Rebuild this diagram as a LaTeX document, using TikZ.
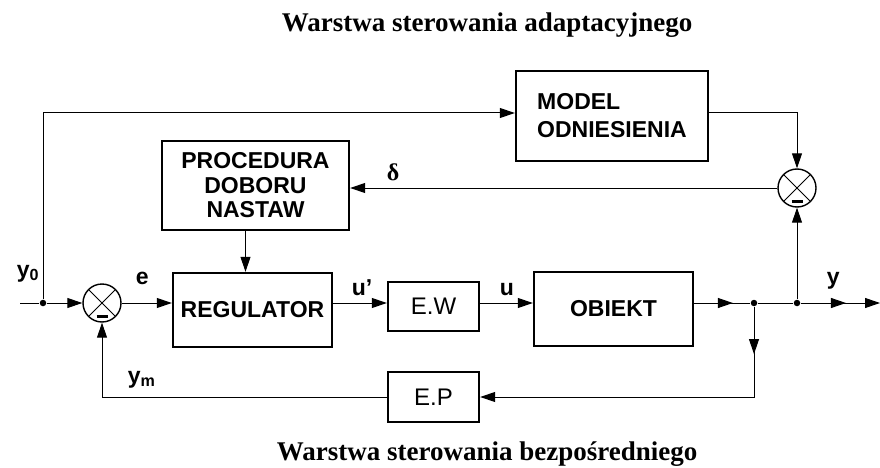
\documentclass[tikz,border=0pt]{standalone}
\usepackage{fontspec}
\setmainfont{Liberation Serif}
\setsansfont{Liberation Sans}
\usetikzlibrary{arrows.meta,positioning,calc,decorations.markings}

\tikzset{
  >={Triangle[length=15pt,width=10pt]},
  blok/.style={draw, line width=2.4pt, inner sep=0pt, align=center,
    font=\sffamily\bfseries\fontsize{23}{24.5}\selectfont},
  sumator/.style={draw, circle, line width=1.4pt, minimum size=38pt, inner sep=0pt,
    path picture={
      \draw[line width=1pt] (path picture bounding box.north west) -- (path picture bounding box.south east);
      \draw[line width=1pt] (path picture bounding box.south west) -- (path picture bounding box.north east);
      \draw[line width=2.6pt] ([xshift=-5.5pt,yshift=-13.5pt]path picture bounding box.center) -- ++(11pt,0pt);
    }},
  wezel/.style={circle, fill, inner sep=0pt, minimum size=6.5pt},
  lbl/.style={anchor=base west, font=\sffamily\bfseries\fontsize{23}{24}\selectfont},
  tytul/.style={anchor=base west, font=\bfseries\fontsize{27}{30}\selectfont},
  midarrow/.style={postaction={decorate},
    decoration={markings, mark=at position #1 with {\arrow{>}}}},
}

\begin{document}
\begin{tikzpicture}[x=1pt, y=-1pt, line width=1pt]
  \useasboundingbox (0,0) rectangle (880,468);

  % warstwy
  \node[tytul] (adapt) at (278,32) {Warstwa sterowania adaptacyjnego};
  \node[tytul] (bezp) at (273,460) {Warstwa sterowania bezpośredniego};

  % bloki
  \node[blok, minimum width=192pt, minimum height=90pt, align=left,
        font=\sffamily\bfseries\fontsize{23}{28}\selectfont] (model) at (612,116) {MODEL\\ODNIESIENIA};
  \node[blok, minimum width=187pt, minimum height=89pt] (proc) at (255.5,185.5) {PROCEDURA\\DOBORU\\NASTAW};
  \node[blok, minimum width=159pt, minimum height=74pt] (reg) at (252.5,310) {REGULATOR};
  \node[blok, minimum width=91pt, minimum height=49pt, font=\sffamily\fontsize{24}{26}\selectfont] (ew) at (433.5,306.5) {E.W};
  \node[blok, minimum width=159pt, minimum height=74pt] (obj) at (613.5,309) {OBIEKT};
  \node[blok, minimum width=91pt, minimum height=50pt, font=\sffamily\fontsize{24}{26}\selectfont] (ep) at (433.5,397) {E.P};

  % sumatory i wezly
  \node[sumator] (s1) at (102,303) {};
  \node[sumator] (s2) at (797,188) {};
  \node[wezel] (j0) at (43,303) {};
  \node[wezel] (j1) at (754,303) {};
  \node[wezel] (j2) at (797,303) {};
  \coordinate (yin) at (20,303);
  \coordinate (yout) at (880,303);

  % tor glowny
  \draw (yin) -- (j0);
  \draw[->] (j0) -- (s1.west);
  \draw[->] (s1.east) -- (reg.west |- s1.east);
  \draw[->] (reg.east |- s1) -- (ew.west |- s1);
  \draw[->] (ew.east |- s1) -- (obj.west |- s1);
  \draw[midarrow=0.69] (obj.east |- s1) -- (j1);
  \draw (j1) -- (j2);
  \draw[->, midarrow=0.57] (j2) -- (yout);

  % sprzezenie zwrotne
  \draw[->, midarrow=0.13] (j1) |- (ep.east);
  \draw[->] (ep.west) -| (s1.south);

  % warstwa adaptacyjna
  \draw[->] (j0) |- ([yshift=3pt]model.west);
  \draw[->] ([yshift=3pt]model.east) -| (s2.north);
  \draw[->] (j2) -- (s2.south);
  \draw[->] (s2.west) -- (s2.west -| proc.east);
  \draw[->] ([xshift=-10pt]proc.south) -- ([xshift=-10pt]proc.south |- reg.north);

  % opisy sygnalow
  \node[lbl] (ly0) at (13,277) {y\textsubscript{0}};
  \node[lbl] (le) at (132,284) {e};
  \node[lbl] (lym) at (124,383) {y\textsubscript{m}};
  \node[lbl] (lu1) at (348,295) {u'};
  \node[lbl] (lu) at (496,295) {u};
  \node[lbl] (ly) at (823,284) {y};
  \node[anchor=base west, font=\bfseries\fontsize{24}{24}\selectfont] (ldelta) at (383,180) {δ};
\end{tikzpicture}
\end{document}
